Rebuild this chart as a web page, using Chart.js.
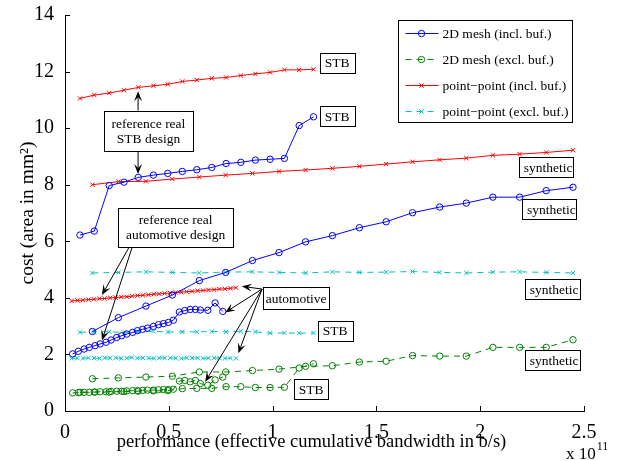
<!DOCTYPE html>
<html>
<head>
<meta charset="utf-8">
<script src="https://cdn.jsdelivr.net/npm/chart.js@4.4.1/dist/chart.umd.min.js"></script>
<style>
  html, body { margin: 0; padding: 0; background: #fff; }
  #wrap { width: 617px; height: 461px; }
</style>
</head>
<body>
<div id="wrap"><canvas id="chart" width="617" height="461"></canvas></div>
<script>
// performance in units of 1e11 b/s, cost in mm^2

// STB designs
const stbX     = [0.072, 0.141, 0.213, 0.284, 0.353, 0.426, 0.495, 0.565, 0.635, 0.707, 0.776, 0.847, 0.917, 0.988, 1.057, 1.128, 1.197];
const redStb   = [11.05, 11.17, 11.24, 11.34, 11.44, 11.50, 11.55, 11.65, 11.70, 11.76, 11.79, 11.86, 11.92, 11.97, 12.06, 12.06, 12.08];
const blueStb  = [6.22, 6.36, 7.97, 8.09, 8.26, 8.34, 8.40, 8.47, 8.53, 8.61, 8.75, 8.79, 8.87, 8.90, 8.93, 10.09, 10.40];
const cyanStb  = [2.78, 2.80, 2.80, 2.78, 2.80, 2.82, 2.79, 2.80, 2.80, 2.81, 2.80, 2.82, 2.80, 2.75, 2.76, 2.75, 2.76];
const greenStb = [0.66, 0.67, 0.67, 0.69, 0.70, 0.71, 0.72, 0.79, 0.80, 0.80, 0.86, 0.86, 0.83, 0.83, 0.84, 1.52, 1.67];

// synthetic designs
const synX     = [0.132, 0.257, 0.390, 0.517, 0.647, 0.774, 0.903, 1.031, 1.159, 1.288, 1.418, 1.547, 1.674, 1.805, 1.933, 2.061, 2.190, 2.318, 2.447];
const redSyn   = [8.00, 8.11, 8.12, 8.20, 8.27, 8.34, 8.40, 8.47, 8.52, 8.58, 8.65, 8.73, 8.81, 8.88, 8.94, 9.04, 9.08, 9.14, 9.22];
const blueSyn  = [2.81, 3.30, 3.71, 4.10, 4.61, 4.90, 5.32, 5.60, 5.98, 6.20, 6.48, 6.69, 7.01, 7.21, 7.35, 7.56, 7.56, 7.79, 7.91];
const cyanSyn  = [4.88, 4.90, 4.92, 4.90, 4.88, 4.91, 4.92, 4.90, 4.88, 4.92, 4.90, 4.91, 4.93, 4.90, 4.88, 4.91, 4.92, 4.90, 4.88];
const greenSyn = [1.14, 1.17, 1.20, 1.23, 1.38, 1.38, 1.43, 1.48, 1.58, 1.60, 1.73, 1.76, 1.96, 1.94, 1.94, 2.25, 2.25, 2.25, 2.52];

// automotive designs (point-point)
const autoX    = [0.032, 0.060, 0.086, 0.113, 0.139, 0.166, 0.191, 0.218, 0.244, 0.271, 0.297, 0.322, 0.349, 0.375, 0.402,
                  0.428, 0.454, 0.480, 0.507, 0.533, 0.560, 0.586, 0.612, 0.639, 0.665, 0.691, 0.718, 0.744, 0.770, 0.797, 0.824];
const redAuto  = [3.89, 3.91, 3.92, 3.94, 3.95, 3.97, 3.98, 4.00, 4.01, 4.03, 4.04, 4.06, 4.08, 4.09, 4.11,
                  4.13, 4.14, 4.16, 4.17, 4.19, 4.20, 4.22, 4.23, 4.25, 4.26, 4.28, 4.29, 4.31, 4.32, 4.34, 4.36];
const cyanAuto = [1.86, 1.87, 1.86, 1.88, 1.87, 1.86, 1.88, 1.87, 1.88, 1.86, 1.87, 1.89, 1.87, 1.88, 1.87,
                  1.86, 1.88, 1.87, 1.88, 1.87, 1.86, 1.88, 1.87, 1.88, 1.86, 1.87, 1.88, 1.87, 1.86, 1.87, 1.86];

// automotive designs (2D mesh)
const meshAutoX = [0.037, 0.064, 0.092, 0.117, 0.145, 0.169, 0.198, 0.222, 0.249, 0.273, 0.297, 0.326, 0.349, 0.374,
                   0.397, 0.426, 0.450, 0.474, 0.498, 0.522, 0.551, 0.577, 0.603, 0.628, 0.652, 0.688, 0.723, 0.760];
const blueAuto  = [2.02, 2.11, 2.19, 2.25, 2.31, 2.37, 2.43, 2.51, 2.60, 2.66, 2.72, 2.78, 2.84, 2.89,
                   2.93, 2.99, 3.05, 3.09, 3.13, 3.21, 3.50, 3.55, 3.59, 3.59, 3.57, 3.56, 3.82, 3.52];
const greenAuto = [0.64, 0.65, 0.66, 0.66, 0.67, 0.68, 0.68, 0.69, 0.70, 0.70, 0.71, 0.72, 0.72, 0.73,
                   0.74, 0.74, 0.75, 0.76, 0.76, 0.77, 1.06, 1.08, 1.03, 1.08, 0.97, 0.91, 1.10, 1.20];

const xTicks = [0, 0.5, 1, 1.5, 2, 2.5];
const yTicks = [0, 2, 4, 6, 8, 10, 12, 14];

const legendLabels = ['2D mesh (incl. buf.)', '2D mesh (excl. buf.)', 'point\u2212point (incl. buf.)', 'point\u2212point (excl. buf.)'];
const xTitle = 'performance (effective cumulative bandwidth in b/s)';
const yTitle = 'cost (area in mm\u00b2)';

const FONT = "'Liberation Serif', 'DejaVu Serif', serif";

const styles = {
  meshIncl: { color: '#0000ff', dash: [], point: 'circle', radius: 3.2 },
  meshExcl: { color: '#008000', dash: [6, 5], point: 'circle', radius: 3.2 },
  ppIncl:   { color: '#ff0000', dash: [], point: 'crossRot', radius: 3 },
  ppExcl:   { color: '#00bfbf', dash: [6, 5], point: 'crossRot', radius: 3 }
};
const legendOrder = ['meshIncl', 'meshExcl', 'ppIncl', 'ppExcl'];

function series(xs, ys, key) {
  const s = styles[key];
  return {
    data: xs.map((x, i) => ({ x: x, y: ys[i] })),
    borderColor: s.color,
    borderWidth: 1,
    borderDash: s.dash,
    pointStyle: s.point,
    pointRadius: s.radius,
    pointBorderColor: s.color,
    pointBackgroundColor: 'rgba(0,0,0,0)',
    pointBorderWidth: 1,
    tension: 0,
    fill: false
  };
}

// annotation text boxes: centre in data units
const boxes = [
  { x: 1.311, y: 12.32, w: 35, h: 20, lines: ['STB'] },
  { x: 1.311, y: 10.43, w: 35, h: 20, lines: ['STB'] },
  { x: 0.402, y: 9.89, w: 89, h: 40, lines: ['reference real', 'STB design'] },
  { x: 0.533, y: 6.49, w: 115, h: 39, lines: ['reference real', 'automotive design'] },
  { x: 1.113, y: 3.99, w: 66, h: 22, lines: ['automotive'] },
  { x: 1.301, y: 2.84, w: 35, h: 20, lines: ['STB'] },
  { x: 1.186, y: 0.77, w: 34, h: 20, lines: ['STB'] },
  { x: 2.318, y: 8.61, w: 54, h: 20, lines: ['synthetic'], shift: 2 },
  { x: 2.333, y: 7.14, w: 54, h: 20, lines: ['synthetic'], shift: 2 },
  { x: 2.346, y: 4.31, w: 55, h: 20, lines: ['synthetic'], shift: 2 },
  { x: 2.346, y: 1.79, w: 55, h: 20, lines: ['synthetic'], shift: 2 }
];
// arrows: tail -> tip in data units
const arrows = [
  { from: [0.352, 10.62], to: [0.352, 11.30] },
  { from: [0.352, 9.17], to: [0.352, 8.38] },
  { from: [0.308, 5.78], to: [0.178, 4.10] },
  { from: [0.323, 5.78], to: [0.178, 2.49] },
  { from: [0.949, 4.31], to: [0.852, 4.41] },
  { from: [0.949, 4.31], to: [0.771, 3.48] },
  { from: [0.949, 4.31], to: [0.835, 2.04] },
  { from: [0.949, 4.31], to: [0.675, 1.03] }
];

function drawArrow(ctx, x1, y1, x2, y2) {
  const ang = Math.atan2(y2 - y1, x2 - x1);
  const L = 10, W = 4;
  ctx.beginPath();
  ctx.moveTo(x1, y1);
  ctx.lineTo(x2 - Math.cos(ang) * 6, y2 - Math.sin(ang) * 6);
  ctx.stroke();
  ctx.save();
  ctx.translate(x2, y2);
  ctx.rotate(ang);
  ctx.beginPath();
  ctx.moveTo(0, 0);
  ctx.lineTo(-L, -W);
  ctx.lineTo(-L * 0.6, 0);
  ctx.lineTo(-L, W);
  ctx.closePath();
  ctx.fill();
  ctx.restore();
}

function drawMarker(ctx, key, cx, cy) {
  const s = styles[key];
  ctx.save();
  ctx.strokeStyle = s.color;
  ctx.fillStyle = 'rgba(0,0,0,0)';
  ctx.lineWidth = 1;
  ctx.setLineDash(s.dash);
  ctx.beginPath();
  ctx.moveTo(cx - 16, cy);
  ctx.lineTo(cx + 17, cy);
  ctx.stroke();
  ctx.setLineDash([]);
  Chart.helpers.drawPoint(ctx, { pointStyle: s.point, radius: s.radius, borderWidth: 1 }, cx, cy);
  ctx.restore();
}

const overlay = {
  id: 'overlay',
  afterDraw(chart) {
    const { ctx, chartArea: a, scales: { x, y } } = chart;
    ctx.save();

    // inward ticks
    ctx.strokeStyle = '#000';
    ctx.lineWidth = 1;
    ctx.beginPath();
    xTicks.forEach(v => {
      const px = Math.round(x.getPixelForValue(v)) + 0.5;
      ctx.moveTo(px, a.bottom);
      ctx.lineTo(px, a.bottom - 5);
    });
    yTicks.forEach(v => {
      const py = Math.round(y.getPixelForValue(v)) + 0.5;
      ctx.moveTo(a.left, py);
      ctx.lineTo(a.left + 5, py);
    });
    ctx.stroke();

    // x axis title (sits a little left of centre, as in the source figure)
    ctx.fillStyle = '#000';
    ctx.textAlign = 'center';
    ctx.textBaseline = 'middle';
    ctx.font = '18.5px ' + FONT;
    ctx.fillText(xTitle, (a.left + a.right) / 2 - 13, a.bottom + 31);

    // exponent label
    ctx.textBaseline = 'alphabetic';
    ctx.textAlign = 'left';
    ctx.font = '17px ' + FONT;
    const ex = a.right - 18;
    ctx.fillText('x 10', ex, 459);
    const w10 = ctx.measureText('x 10').width;
    ctx.font = '12px ' + FONT;
    ctx.fillText('11', ex + w10 + 1, 450);

    // arrows
    ctx.strokeStyle = '#000';
    ctx.fillStyle = '#000';
    arrows.forEach(ar => {
      drawArrow(ctx, x.getPixelForValue(ar.from[0]), y.getPixelForValue(ar.from[1]),
                     x.getPixelForValue(ar.to[0]), y.getPixelForValue(ar.to[1]));
    });

    // text boxes
    ctx.font = '13.5px ' + FONT;
    ctx.textAlign = 'center';
    ctx.textBaseline = 'middle';
    boxes.forEach(b => {
      const cx = x.getPixelForValue(b.x), cy = y.getPixelForValue(b.y);
      const bx = Math.round(cx - b.w / 2) + 0.5, by = Math.round(cy - b.h / 2) + 0.5;
      ctx.fillStyle = '#fff';
      ctx.fillRect(bx, by, b.w, b.h);
      ctx.strokeStyle = '#000';
      ctx.strokeRect(bx, by, b.w, b.h);
      ctx.fillStyle = '#000';
      const n = b.lines.length;
      b.lines.forEach((t, i) => ctx.fillText(t, cx + (b.shift || 0), cy + (i - (n - 1) / 2) * 15 + 1));
    });

    // legend
    const lx = a.right - 185.5, ly = a.top + 5.5, lw = 174, lh = 102;
    ctx.fillStyle = '#fff';
    ctx.fillRect(lx, ly, lw, lh);
    ctx.strokeStyle = '#000';
    ctx.strokeRect(lx, ly, lw, lh);
    ctx.textAlign = 'left';
    ctx.font = '13.5px ' + FONT;
    legendOrder.forEach((k, i) => {
      const ry = ly + 13 + i * 26;
      drawMarker(ctx, k, lx + 23, ry);
      ctx.fillStyle = '#000';
      ctx.fillText(legendLabels[i], lx + 44, ry + 1);
    });

    ctx.restore();
  }
};

const tickFont = { family: FONT, size: 20 };

new Chart(document.getElementById('chart'), {
  type: 'line',
  data: {
    datasets: [
      series(stbX, redStb, 'ppIncl'),
      series(stbX, blueStb, 'meshIncl'),
      series(synX, redSyn, 'ppIncl'),
      series(synX, blueSyn, 'meshIncl'),
      series(synX, cyanSyn, 'ppExcl'),
      series(autoX, redAuto, 'ppIncl'),
      series(meshAutoX, blueAuto, 'meshIncl'),
      series(stbX, cyanStb, 'ppExcl'),
      series(autoX, cyanAuto, 'ppExcl'),
      series(synX, greenSyn, 'meshExcl'),
      series(meshAutoX, greenAuto, 'meshExcl'),
      series(stbX, greenStb, 'meshExcl')
    ]
  },
  options: {
    responsive: false,
    animation: false,
    devicePixelRatio: 1,
    layout: { padding: { left: 0, right: 33, top: 11, bottom: 0 } },
    plugins: { legend: { display: false }, tooltip: { enabled: false } },
    scales: {
      x: {
        type: 'linear',
        min: 0, max: 2.5,
        afterBuildTicks: s => { s.ticks = xTicks.map(v => ({ value: v })); },
        afterFit: s => { s.height = 50; },
        grid: { display: false },
        border: { display: true, color: '#000', width: 1 },
        ticks: { font: tickFont, color: '#000', padding: 2, maxRotation: 0, callback: v => String(v) }
      },
      y: {
        type: 'linear',
        min: 0, max: 14,
        afterBuildTicks: s => { s.ticks = yTicks.map(v => ({ value: v })); },
        afterFit: s => { s.width = 65; },
        grid: { display: false },
        border: { display: true, color: '#000', width: 1 },
        ticks: { font: tickFont, color: '#000', padding: 3, callback: v => String(v) },
        title: {
          display: true,
          text: yTitle,
          font: { family: FONT, size: 19.5 }, color: '#000',
          padding: { top: 16, bottom: 0 }
        }
      }
    }
  },
  plugins: [overlay]
});
</script>
</body>
</html>
